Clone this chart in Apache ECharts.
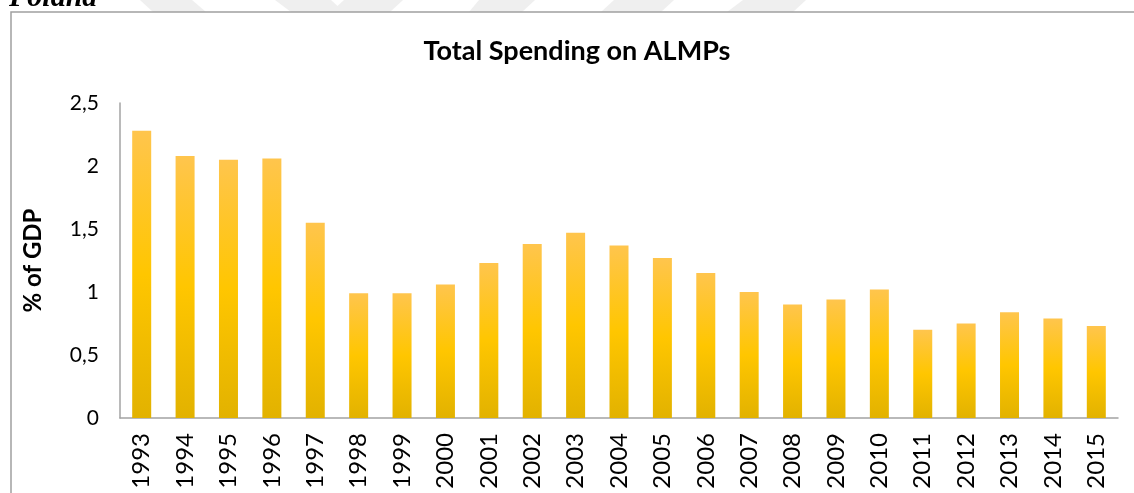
<!DOCTYPE html>
<html>
<head>
<meta charset="utf-8">
<script src="https://cdn.jsdelivr.net/npm/echarts@6/dist/echarts.min.js"></script>
<style>
  html, body { margin: 0; padding: 0; background: #ffffff; }
  #chart { width: 1134px; height: 493px; }
</style>
</head>
<body>
<div id="chart"></div>
<script>
// Poland: total spending on active labour market policies, % of GDP
const years = ['1993','1994','1995','1996','1997','1998','1999','2000','2001','2002','2003','2004',
               '2005','2006','2007','2008','2009','2010','2011','2012','2013','2014','2015'];
const spending = [2.28, 2.08, 2.05, 2.06, 1.55, 0.99, 0.99, 1.06, 1.23, 1.38, 1.47, 1.37,
                  1.27, 1.15, 1.00, 0.90, 0.94, 1.02, 0.70, 0.75, 0.84, 0.79, 0.73];
const yTicks = [0, 0.5, 1, 1.5, 2, 2.5];
const yTickLabels = ['0', '0,5', '1', '1,5', '2', '2,5'];

const chart = echarts.init(document.getElementById('chart'), null, { renderer: 'canvas' });

const axisGray = '#a3a3a3';
const fontFamily = 'Lato, "Liberation Sans", sans-serif';

// faint decorative chevrons above the frame
const stripes = [
  [[140,0],[192,0],[206,12],[153,12]],
  [[275,0],[331,0],[344,12],[291,12]],
  [[344,0],[403,0],[390,12],[331,12]],
  [[479,0],[535,0],[522,12],[469,12]],
  [[614,0],[674,0],[661,12],[601,12]],
  [[743,0],[806,0],[793,12],[727,12]]
];

const option = {
  backgroundColor: '#ffffff',
  animation: false,
  title: {
    text: 'Total Spending on ALMPs',
    left: 572,
    top: 33,
    textAlign: 'center',
    textStyle: { fontFamily: fontFamily, fontSize: 27, fontWeight: 'bold', color: '#000000' }
  },
  grid: { left: 120, right: 16, top: 103, bottom: 75, containLabel: false },
  xAxis: {
    type: 'category',
    data: years,
    axisLine: { show: true, lineStyle: { color: axisGray, width: 1.5 } },
    axisTick: { show: false },
    axisLabel: {
      rotate: 90,
      margin: 15,
      interval: 0,
      fontFamily: fontFamily,
      fontSize: 24,
      color: '#000000'
    }
  },
  yAxis: {
    type: 'value',
    min: yTicks[0],
    max: yTicks[yTicks.length - 1],
    interval: yTicks[1] - yTicks[0],
    name: '% of GDP',
    nameLocation: 'middle',
    nameRotate: 90,
    nameGap: 75,
    nameTextStyle: { fontFamily: fontFamily, fontSize: 24, fontWeight: 'bold', color: '#000000' },
    axisLine: { show: true, lineStyle: { color: axisGray, width: 1.5 } },
    axisTick: { show: false },
    splitLine: { show: false },
    axisLabel: {
      margin: 21,
      fontFamily: fontFamily,
      fontSize: 21,
      color: '#000000',
      formatter: function (v) {
        const i = yTicks.indexOf(v);
        return i >= 0 ? yTickLabels[i] : String(v).replace('.', ',');
      }
    }
  },
  series: [{
    type: 'bar',
    data: spending,
    barWidth: 19,
    itemStyle: {
      color: new echarts.graphic.LinearGradient(0, 0, 0, 1, [
        { offset: 0, color: '#ffc54d' },
        { offset: 0.5, color: '#ffc600' },
        { offset: 1, color: '#e2b200' }
      ])
    }
  }],
  graphic: [
    ...stripes.map(function (pts) {
      return {
        type: 'polygon',
        silent: true,
        z: -10,
        shape: { points: pts },
        style: { fill: '#efefef' }
      };
    }),
    {
      type: 'rect',
      silent: true,
      z: -5,
      shape: { x: 11, y: 12, width: 1140, height: 500 },
      style: { fill: 'none', stroke: '#a0a0a0', lineWidth: 1.5 }
    },
    {
      type: 'text',
      silent: true,
      left: 9,
      top: -17,
      style: {
        text: 'Poland',
        font: 'italic bold 30px "Liberation Serif", serif',
        fill: '#000000'
      }
    }
  ]
};

chart.setOption(option);
</script>
</body>
</html>
